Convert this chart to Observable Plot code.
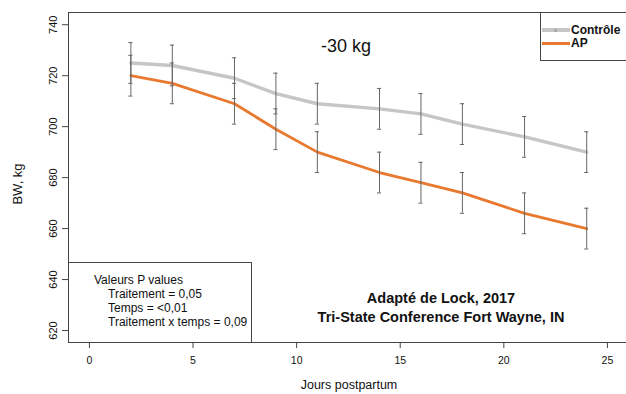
<!DOCTYPE html>
<html>
<head>
<meta charset="utf-8">
<script src="https://cdn.jsdelivr.net/npm/d3@7"></script>
<script src="https://cdn.jsdelivr.net/npm/@observablehq/plot@0.6"></script>
<style>
  html, body { margin: 0; padding: 0; background: #fff; }
  #wrap { position: relative; width: 626px; height: 394px; overflow: hidden; font-family: "Liberation Sans", Arial, sans-serif; color: #111; }
  #wrap svg { position: absolute; left: 0; top: 0; }
  .box { position: absolute; border: 1px solid #444; background: #fff; box-sizing: border-box; }
  .abs { position: absolute; white-space: nowrap; }
</style>
</head>
<body>
<div id="wrap"></div>
<script>
// ---- data ----
const days = [2, 4, 7, 9, 11, 14, 16, 18, 21, 24];
const controle = [725, 724, 719, 713, 709, 707, 705, 701, 696, 690];
const ap = [720, 717, 709, 699, 690, 682, 678, 674, 666, 660];
const errControle = [8, 8, 8, 8, 8, 8, 8, 8, 8, 8];
const errAP = [8, 8, 8, 8, 8, 8, 8, 8, 8, 8];
const seriesNames = ["Contrôle", "AP"];
const seriesColors = ["#c6c6c6", "#e8792f"];
const xTicks = [0, 5, 10, 15, 20, 25];
const yTicks = [620, 640, 660, 680, 700, 720, 740];
const xLabel = "Jours postpartum";
const yLabel = "BW, kg";
const pValueLines = ["Valeurs P values", "Traitement = 0,05", "Temps = <0,01", "Traitement x temps = 0,09"];
const diffLabel = "-30 kg";
const sourceLines = ["Adapté de Lock, 2017", "Tri-State Conference Fort Wayne, IN"];

const rows = [];
days.forEach((d, i) => {
  rows.push({day: d, bw: controle[i], err: errControle[i], series: seriesNames[0]});
});
days.forEach((d, i) => {
  rows.push({day: d, bw: ap[i], err: errAP[i], series: seriesNames[1]});
});
const capHalf = 0.1;

const chart = Plot.plot({
  width: 626,
  height: 394,
  marginLeft: 68,
  marginTop: 12,
  marginBottom: 52,
  marginRight: 0,
  style: {fontFamily: "'Liberation Sans', Arial, sans-serif", color: "#111", background: "transparent"},
  x: {domain: [-1.01, 25.92]},
  y: {domain: [615.3, 744.8]},
  color: {domain: seriesNames, range: seriesColors},
  marks: [
    Plot.axisX({ticks: xTicks, tickSize: 6, tickPadding: 8, fontSize: 10.5, stroke: "#444", label: null}),
    Plot.axisY({ticks: yTicks, tickSize: 6, tickPadding: 6, fontSize: 11, tickRotate: -90, stroke: "#444", label: null}),
    Plot.line(rows.filter(r => r.series === seriesNames[0]), {x: "day", y: "bw", stroke: seriesColors[0], strokeWidth: 3.4}),
    Plot.line(rows.filter(r => r.series === seriesNames[1]), {x: "day", y: "bw", stroke: seriesColors[1], strokeWidth: 2.8}),
    Plot.ruleX(rows, {x: "day", y1: d => d.bw - d.err, y2: d => d.bw + d.err, stroke: "#666", strokeWidth: 1}),
    Plot.ruleY(rows, {y: d => d.bw + d.err, x1: d => d.day - capHalf, x2: d => d.day + capHalf, stroke: "#666", strokeWidth: 1}),
    Plot.ruleY(rows, {y: d => d.bw - d.err, x1: d => d.day - capHalf, x2: d => d.day + capHalf, stroke: "#666", strokeWidth: 1}),
    Plot.frame({stroke: "#444", strokeWidth: 1})
  ]
});

const wrap = document.getElementById("wrap");
wrap.appendChild(chart);

// axis labels
const xl = document.createElement("div");
xl.className = "abs";
xl.style.cssText = "left:349px; top:378px; transform:translateX(-50%); font-size:12.5px; line-height:15px;";
xl.textContent = xLabel;
wrap.appendChild(xl);

const yl = document.createElement("div");
yl.className = "abs";
yl.style.cssText = "left:18px; top:184px; transform:translate(-50%,-50%) rotate(-90deg); font-size:13px; line-height:16px;";
yl.textContent = yLabel;
wrap.appendChild(yl);

// -30 kg annotation
const diff = document.createElement("div");
diff.className = "abs";
diff.style.cssText = "left:321px; top:35px; font-size:18px; line-height:22px;";
diff.textContent = diffLabel;
wrap.appendChild(diff);

// legend box
const leg = document.createElement("div");
leg.className = "box";
leg.style.cssText = "left:540px; top:12px; width:90px; height:49px;";
wrap.appendChild(leg);
seriesNames.forEach((name, i) => {
  const ln = document.createElement("div");
  ln.className = "abs";
  const h = i === 0 ? 4 : 3;
  ln.style.cssText = `left:1px; top:${(i === 0 ? 17 : 30) - h / 2}px; width:28px; height:${h}px; background:${seriesColors[i]};`;
  leg.appendChild(ln);
  if (i === 0) {
    const mk = document.createElement("div");
    mk.className = "abs";
    mk.style.cssText = "left:13px; top:16px; width:3px; height:3px; background:#aaa;";
    leg.appendChild(mk);
  }
  const tx = document.createElement("div");
  tx.className = "abs";
  tx.style.cssText = `left:30px; top:${(i === 0 ? 17 : 30) - 8}px; font-size:12px; line-height:16px; font-weight:bold;`;
  tx.textContent = name;
  leg.appendChild(tx);
});

// p-values box
const pbox = document.createElement("div");
pbox.className = "box";
pbox.style.cssText = "left:68px; top:262px; width:184px; height:81px;";
wrap.appendChild(pbox);
pValueLines.forEach((t, i) => {
  const d = document.createElement("div");
  d.className = "abs";
  d.style.cssText = `left:${i === 0 ? 25 : 39}px; top:${10 + i * 14}px; font-size:12px; line-height:14px;`;
  d.textContent = t;
  pbox.appendChild(d);
});

// source text
sourceLines.forEach((t, i) => {
  const d = document.createElement("div");
  d.className = "abs";
  d.style.cssText = `left:441px; top:${289 + i * 18.5}px; transform:translateX(-50%); font-size:14.5px; line-height:18px; font-weight:bold;`;
  d.textContent = t;
  wrap.appendChild(d);
});
</script>
</body>
</html>
